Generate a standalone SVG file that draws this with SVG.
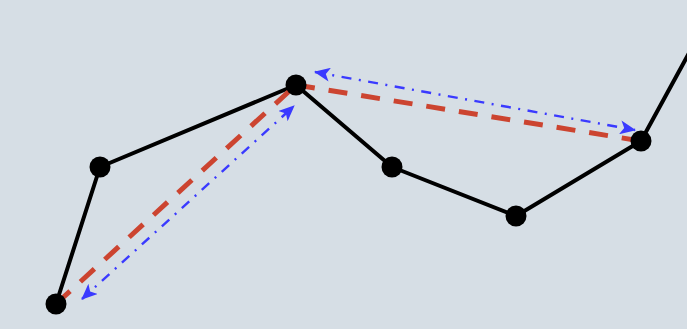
<svg xmlns="http://www.w3.org/2000/svg" width="687" height="329" viewBox="0 0 687 329">
<style>
.path{fill:none;stroke:#000;stroke-width:4;stroke-linejoin:round}
.red{fill:none;stroke:#cc4430;stroke-width:5;stroke-dasharray:19 14}
.blue{fill:none;stroke:#3a3aff;stroke-width:2.4;stroke-dasharray:10 7.5 2 7.5}
.node{fill:#000}
</style>
<defs>
<marker id="ah" viewBox="0 0 16 14" refX="15" refY="7" markerWidth="16" markerHeight="14" markerUnits="userSpaceOnUse" orient="auto-start-reverse">
<path d="M0,0 L16,7 L0,14 L4,7 Z" fill="#3a3aff"/>
</marker>
</defs>
<rect width="687" height="329" fill="#d6dee5"/>
<g id="connectors">
<polyline class="path" points="56,304 100,167 296,85 392,167 516,216 641,141 700,33"/>
<line class="red" x1="56" y1="304" x2="296" y2="85"/>
<line class="red" x1="296" y1="85" x2="641" y2="141"/>
<line class="blue" x1="82" y1="299" x2="294" y2="106" marker-start="url(#ah)" marker-end="url(#ah)"/>
<line class="blue" x1="315" y1="72" x2="635" y2="130" marker-start="url(#ah)" marker-end="url(#ah)"/>
</g>
<g id="n1"><circle class="node" cx="56" cy="304" r="10.5"/></g>
<g id="n2"><circle class="node" cx="100" cy="167" r="10.5"/></g>
<g id="n3"><circle class="node" cx="296" cy="85" r="10.5"/></g>
<g id="n4"><circle class="node" cx="392" cy="167" r="10.5"/></g>
<g id="n5"><circle class="node" cx="516" cy="216" r="10.5"/></g>
<g id="n6"><circle class="node" cx="641" cy="141" r="10.5"/></g>
</svg>
